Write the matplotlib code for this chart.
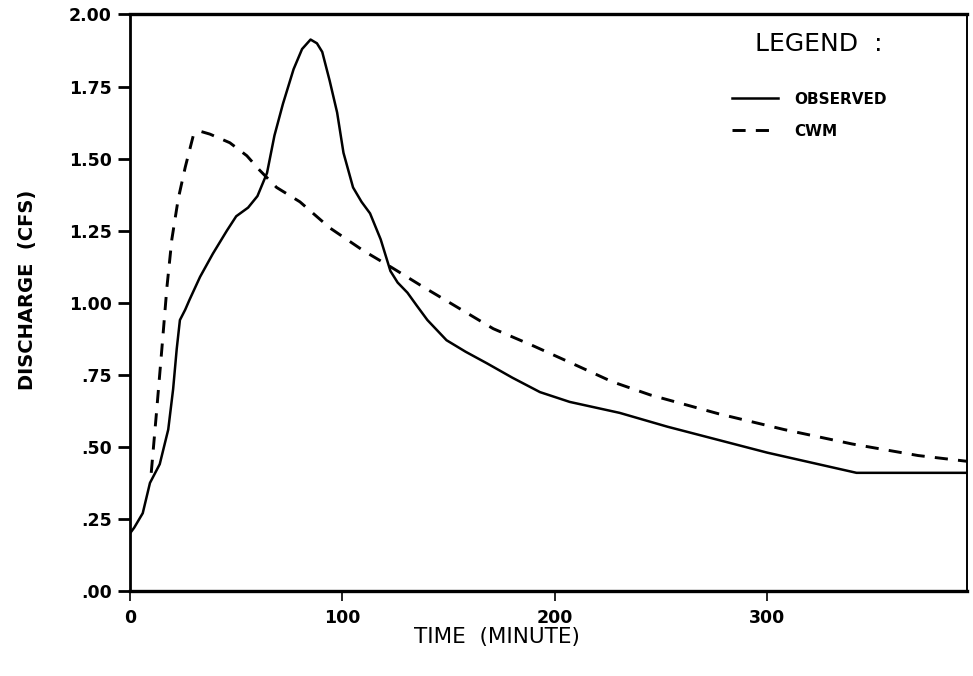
import matplotlib.pyplot as plt

# Observed hydrograph (time in minutes, discharge in cfs)
obs_t = [0, 2, 6, 9.4, 14, 18, 20.3, 22, 23.5, 26, 28, 33, 39, 45.6, 50, 55.6,
         60, 64.5, 68, 72, 77, 81, 85, 88, 90.5, 94, 97.5, 100.5, 105, 109,
         113, 118, 122.6, 126, 130.6, 135, 140, 149, 158, 168, 180, 193, 207,
         230.5, 253, 300, 342, 394]
obs_q = [0.20, 0.22, 0.27, 0.375, 0.44, 0.56, 0.70, 0.84, 0.94, 0.976, 1.01,
         1.09, 1.17, 1.25, 1.30, 1.33, 1.37, 1.45, 1.58, 1.69, 1.81, 1.88,
         1.913, 1.90, 1.87, 1.77, 1.66, 1.52, 1.40, 1.35, 1.31, 1.22, 1.11,
         1.07, 1.035, 0.99, 0.94, 0.87, 0.83, 0.79, 0.74, 0.69, 0.656, 0.618,
         0.57, 0.48, 0.41, 0.41]

# CWM simulated hydrograph
cwm_t = [10, 12.6, 15, 17.4, 19.7, 22.7, 26, 29.8, 33, 37.6, 47, 55, 61, 69,
         80, 94, 110, 122.6, 138, 146, 171, 190, 208, 227, 245, 277, 308, 340,
         371, 394]
cwm_q = [0.41, 0.63, 0.84, 1.055, 1.22, 1.36, 1.47, 1.58, 1.595, 1.585, 1.555,
         1.51, 1.46, 1.40, 1.35, 1.26, 1.18, 1.125, 1.055, 1.02, 0.91, 0.85,
         0.79, 0.726, 0.68, 0.615, 0.56, 0.51, 0.47, 0.45]

y_ticks = [0, 0.25, 0.5, 0.75, 1.0, 1.25, 1.5, 1.75, 2.0]
y_labels = ['.00', '.25', '.50', '.75', '1.00', '1.25', '1.50', '1.75', '2.00']
x_ticks = [0, 100, 200, 300]

fig = plt.figure(figsize=(9.73, 6.76), dpi=100)
ax = fig.add_axes([0.1336, 0.1257, 0.8602, 0.8529])

ax.plot(obs_t, obs_q, color='black', lw=1.8, label='OBSERVED')
ax.plot(cwm_t, cwm_q, color='black', lw=2.1, dashes=(4.5, 3.5), label='CWM')

ax.set_xlim(0, 394)
ax.set_ylim(0, 2.0)
ax.set_yticks(y_ticks)
ax.set_yticklabels(y_labels)
ax.set_xticks(x_ticks)

for s in ax.spines.values():
    s.set_linewidth(1.4)
ax.spines['top'].set_linewidth(2.4)
ax.spines['bottom'].set_linewidth(2.4)
ax.spines['left'].set_linewidth(2.0)

ax.tick_params(axis='y', direction='out', length=9, width=2, pad=4)
ax.tick_params(axis='x', direction='out', length=7, width=1.2, pad=6)
for lab in ax.get_xticklabels() + ax.get_yticklabels():
    lab.set_fontsize(12.5)
    lab.set_fontweight('bold')

ylab = ax.set_ylabel('DISCHARGE  (CFS)', fontsize=14, fontweight='bold')
ax.yaxis.set_label_coords(-0.111, 0.5226)
xlab = ax.set_xlabel('TIME  (MINUTE)', fontsize=15.5)
xlab.set_va('center')
ax.xaxis.set_label_coords(0.4385, -0.08)

# legend block in the upper right
ax.text(0.8235, 0.948, 'LEGEND  :', transform=ax.transAxes, fontsize=18,
        ha='center', va='center')
leg = ax.legend(loc='upper left', bbox_to_anchor=(0.719, 0.866), frameon=False,
                prop={'size': 11, 'weight': 'bold'}, handlelength=3.0,
                handletextpad=1.1, labelspacing=1.1, borderaxespad=0,
                borderpad=0)

plt.savefig('out.png', dpi=100)
